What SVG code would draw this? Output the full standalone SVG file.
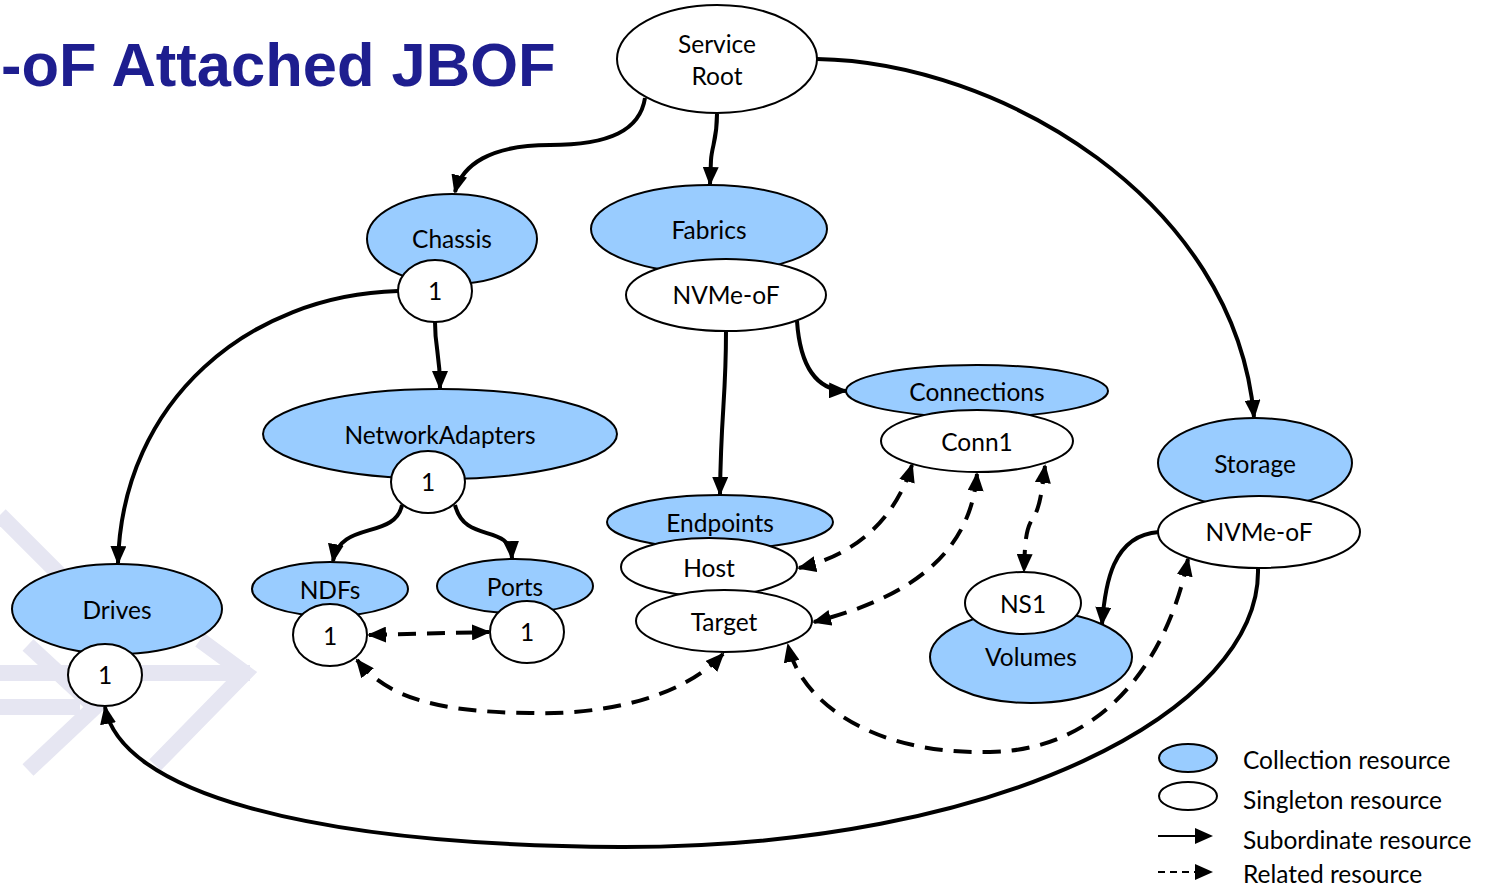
<svg xmlns="http://www.w3.org/2000/svg" width="1487" height="886" viewBox="0 0 1487 886">
<style>
.col{fill:#99CCFF;stroke:#000;stroke-width:2}
.sng{fill:#fff;stroke:#000;stroke-width:2}
.t{font-family:Lato,"Open Sans",sans-serif;font-size:24.5px;fill:#000;text-anchor:middle;dominant-baseline:central}
.lt{font-family:Lato,"Open Sans",sans-serif;font-size:24.5px;fill:#000;dominant-baseline:central}
.s{fill:none;stroke:#000;stroke-width:4}
.d{fill:none;stroke:#000;stroke-width:4;stroke-dasharray:18 11}
.bg{fill:none;stroke:#e6e6f2;stroke-width:16;stroke-linejoin:miter}
</style>
<defs>
<marker id="a" markerUnits="userSpaceOnUse" markerWidth="20" markerHeight="16" refX="17" refY="8" orient="auto-start-reverse"><path d="M0,0 L19,8 L0,16 z" fill="#000"/></marker>
</defs>
<rect width="1487" height="886" fill="#fff"/>
<g id="background">
<path class="bg" d="M0,515 L85,600"/>
<path class="bg" d="M0,673 L250,673 M200,640 L245,673 L155,765"/>
<path class="bg" d="M0,707 L80,707 M28,645 L95,707 L28,770"/>
</g>
<text x="1" y="86" font-family="Liberation Sans,Arial,sans-serif" font-weight="bold" font-size="61.5" fill="#1E1E8F">-oF Attached JBOF</text>
<g id="connectors">
<path class="s" marker-end="url(#a)" d="M645,98 C640,130 610,145 550,145 C490,145 462,165 455,192"/>
<path class="s" marker-end="url(#a)" d="M717,114 C717,140 712,145 711,160 L710,184"/>
<path class="s" marker-end="url(#a)" d="M817,59 C1000,62 1235,200 1254,417"/>
<path class="s" marker-end="url(#a)" d="M398,291 C250,295 122,400 118,563"/>
<path class="s" marker-end="url(#a)" d="M435,322 C435,350 440,352 440,388"/>
<path class="s" marker-end="url(#a)" d="M726,331 C726,400 721,410 720,494"/>
<path class="s" marker-end="url(#a)" d="M797,321 C800,365 815,390 846,391"/>
<path class="s" marker-end="url(#a)" d="M402,505 C395,540 340,520 333,561"/>
<path class="s" marker-end="url(#a)" d="M455,505 C465,545 510,522 512,558"/>
<path class="s" marker-end="url(#a)" d="M1159,532 C1112,535 1105,585 1102,624"/>
<path class="s" marker-end="url(#a)" d="M1258,568 C1262,710 1000,848 620,847 C300,845 120,790 105,707"/>
<path class="d" marker-start="url(#a)" marker-end="url(#a)" d="M369,635 L489,632"/>
<path class="d" marker-start="url(#a)" marker-end="url(#a)" d="M723,654 C680,700 600,715 530,713 C430,712 385,695 357,660"/>
<path class="d" marker-start="url(#a)" marker-end="url(#a)" d="M912,465 C895,520 855,555 799,568"/>
<path class="d" marker-start="url(#a)" marker-end="url(#a)" d="M977,474 C970,560 900,600 814,622"/>
<path class="d" marker-start="url(#a)" marker-end="url(#a)" d="M1045,466 C1042,490 1040,508 1033,518 C1025,530 1025,545 1024,571"/>
<path class="d" marker-start="url(#a)" marker-end="url(#a)" d="M1188,559 C1170,650 1110,750 990,752 C870,755 800,700 788,645"/>
</g>
<g id="service-root"><ellipse class="sng" cx="717" cy="59" rx="100" ry="54"/><text class="t" x="717" y="43">Service</text><text class="t" x="717" y="75">Root</text></g>
<g id="chassis"><ellipse class="col" cx="452" cy="239" rx="85" ry="45"/><text class="t" x="452" y="238">Chassis</text></g>
<g id="chassis-1"><ellipse class="sng" cx="435" cy="291" rx="37" ry="31"/><text class="t" x="435" y="290">1</text></g>
<g id="fabrics"><ellipse class="col" cx="709" cy="229" rx="118" ry="44"/><text class="t" x="709" y="229">Fabrics</text></g>
<g id="fabrics-nvmeof"><ellipse class="sng" cx="726" cy="295" rx="100" ry="36"/><text class="t" x="726" y="294">NVMe-oF</text></g>
<g id="networkadapters"><ellipse class="col" cx="440" cy="434" rx="177" ry="45"/><text class="t" x="440" y="434">NetworkAdapters</text></g>
<g id="na-1"><ellipse class="sng" cx="428" cy="482" rx="37" ry="31"/><text class="t" x="428" y="481">1</text></g>
<g id="ndfs"><ellipse class="col" cx="330" cy="589" rx="78" ry="27"/><text class="t" x="330" y="589">NDFs</text></g>
<g id="ndfs-1"><ellipse class="sng" cx="330" cy="635" rx="37" ry="31"/><text class="t" x="330" y="635">1</text></g>
<g id="ports"><ellipse class="col" cx="515" cy="586" rx="78" ry="27"/><text class="t" x="515" y="586">Ports</text></g>
<g id="ports-1"><ellipse class="sng" cx="527" cy="632" rx="37" ry="31"/><text class="t" x="527" y="631">1</text></g>
<g id="drives"><ellipse class="col" cx="117" cy="609" rx="105" ry="45"/><text class="t" x="117" y="609">Drives</text></g>
<g id="drives-1"><ellipse class="sng" cx="105" cy="675" rx="37" ry="31"/><text class="t" x="105" y="674">1</text></g>
<g id="endpoints"><ellipse class="col" cx="720" cy="522" rx="113" ry="27"/><text class="t" x="720" y="522">Endpoints</text></g>
<g id="host"><ellipse class="sng" cx="709" cy="567" rx="88" ry="29"/><text class="t" x="709" y="567">Host</text></g>
<g id="target"><ellipse class="sng" cx="724" cy="621" rx="88" ry="31"/><text class="t" x="724" y="621">Target</text></g>
<g id="connections"><ellipse class="col" cx="977" cy="391" rx="131" ry="26"/><text class="t" x="977" y="391">Connections</text></g>
<g id="conn1"><ellipse class="sng" cx="977" cy="441" rx="96" ry="31"/><text class="t" x="977" y="441">Conn1</text></g>
<g id="volumes"><ellipse class="col" cx="1031" cy="657" rx="101" ry="46"/><text class="t" x="1031" y="656">Volumes</text></g>
<g id="ns1"><ellipse class="sng" cx="1023" cy="603" rx="58" ry="31"/><text class="t" x="1023" y="603">NS1</text></g>
<g id="storage"><ellipse class="col" cx="1255" cy="463" rx="97" ry="45"/><text class="t" x="1255" y="463">Storage</text></g>
<g id="storage-nvmeof"><ellipse class="sng" cx="1259" cy="532" rx="101" ry="36"/><text class="t" x="1259" y="531">NVMe-oF</text></g>
<g id="legend">
<ellipse class="col" cx="1188" cy="758" rx="29" ry="14" stroke-width="2.5"/>
<ellipse class="sng" cx="1188" cy="796" rx="29" ry="14" stroke-width="2.5"/>
<path d="M1158,836 L1196,836" stroke="#000" stroke-width="2" fill="none"/>
<path d="M1195,828 L1213,836 L1195,844 z" fill="#000"/>
<path d="M1158,872 L1196,872" stroke="#000" stroke-width="2" fill="none" stroke-dasharray="7 5"/>
<path d="M1195,864 L1213,872 L1195,880 z" fill="#000"/>
<text class="lt" x="1243" y="759">Collection resource</text>
<text class="lt" x="1243" y="799">Singleton resource</text>
<text class="lt" x="1243" y="839">Subordinate resource</text>
<text class="lt" x="1243" y="873">Related resource</text>
</g>
</svg>
